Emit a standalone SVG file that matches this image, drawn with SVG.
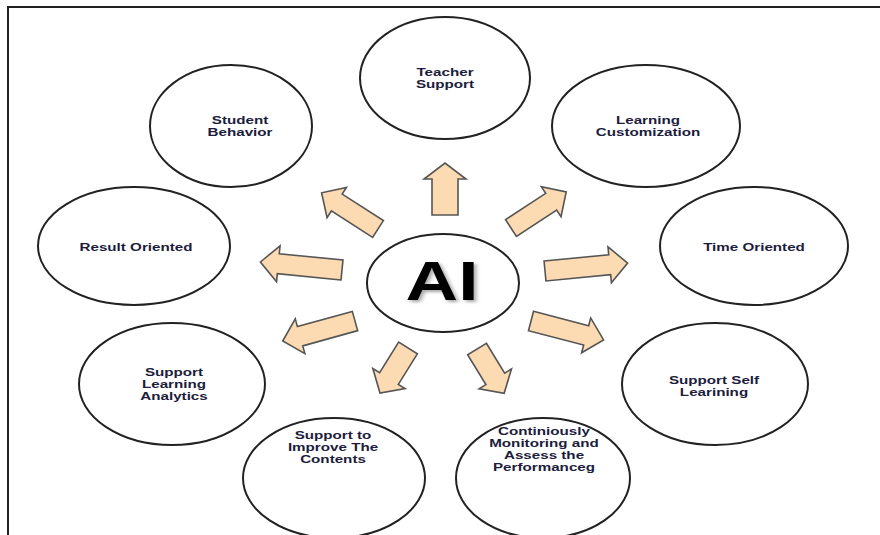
<svg xmlns="http://www.w3.org/2000/svg" width="880" height="535" viewBox="0 0 880 535">
<defs>
<style>
.node{fill:#fff;stroke:#222;stroke-width:2}
.lbl{font-family:"Liberation Sans",Arial,sans-serif;font-weight:bold;font-size:11px;fill:#1c1c3c;text-anchor:middle}
.arr{fill:#fcdab2;stroke:#555;stroke-width:1.6;stroke-linejoin:miter}
.ai{font-family:"Liberation Sans",Arial,sans-serif;font-weight:bold;font-size:56px;fill:#000;text-anchor:middle}
</style>
<filter id="sh" x="-20%" y="-20%" width="140%" height="140%">
<feDropShadow dx="2" dy="2" stdDeviation="1.5" flood-color="#000" flood-opacity="0.35"/>
</filter>
</defs>
<rect width="880" height="535" fill="#fff"/>
<path d="M8,535 V7 H880" fill="none" stroke="#222" stroke-width="2"/>
<g id="connectors">
<path class="arr" transform="translate(445,215) rotate(-90)" d="M0,-13 H36 V-21 L52,0 L36,21 V13 H0 Z"/>
<path class="arr" transform="translate(378,229) rotate(-147.3)" d="M0,-10 H49 V-18 L67,0 L49,18 V10 H0 Z"/>
<path class="arr" transform="translate(511,228) rotate(-33.2)" d="M0,-10 H48 V-18 L66,0 L48,18 V10 H0 Z"/>
<path class="arr" transform="translate(342,270) rotate(-174.4)" d="M0,-10 H64 V-18 L82,0 L64,18 V10 H0 Z"/>
<path class="arr" transform="translate(545,271) rotate(-5.5)" d="M0,-10 H65 V-18 L83,0 L65,18 V10 H0 Z"/>
<path class="arr" transform="translate(355,321) rotate(164.5)" d="M0,-10 H57 V-18 L75,0 L57,18 V10 H0 Z"/>
<path class="arr" transform="translate(531,321) rotate(14.6)" d="M0,-10 H57 V-18 L75,0 L57,18 V10 H0 Z"/>
<path class="arr" transform="translate(408,348) rotate(121.9)" d="M0,-11 H36 V-19 L53,0 L36,19 V11 H0 Z"/>
<path class="arr" transform="translate(477,349) rotate(58.5)" d="M0,-11 H35 V-19 L52,0 L35,19 V11 H0 Z"/>
</g>
<g id="ai">
<ellipse class="node" cx="443" cy="283" rx="76" ry="49" stroke-width="1.6"/>
<text class="ai" transform="translate(442,0) scale(1.3,1)" x="0" y="300" filter="url(#sh)">AI</text>
</g>
<g id="teacher">
<ellipse class="node" cx="445" cy="78" rx="85" ry="61"/>
<text class="lbl" transform="translate(445,0) scale(1.38,1)"><tspan x="0" y="76">Teacher</tspan><tspan x="0" y="88">Support</tspan></text>
</g>
<g id="student">
<ellipse class="node" cx="231" cy="126" rx="81" ry="61"/>
<text class="lbl" transform="translate(240,0) scale(1.38,1)"><tspan x="0" y="124">Student</tspan><tspan x="0" y="136">Behavior</tspan></text>
</g>
<g id="learning">
<ellipse class="node" cx="646" cy="126" rx="94" ry="61"/>
<text class="lbl" transform="translate(648,0) scale(1.38,1)"><tspan x="0" y="124">Learning</tspan><tspan x="0" y="136">Customization</tspan></text>
</g>
<g id="result">
<ellipse class="node" cx="134" cy="246" rx="96" ry="59"/>
<text class="lbl" transform="translate(136,0) scale(1.38,1)" x="0" y="251">Result Oriented</text>
</g>
<g id="time">
<ellipse class="node" cx="754" cy="246" rx="94" ry="59"/>
<text class="lbl" transform="translate(754,0) scale(1.38,1)" x="0" y="251">Time Oriented</text>
</g>
<g id="analytics">
<ellipse class="node" cx="172" cy="384" rx="93" ry="61"/>
<text class="lbl" transform="translate(174,0) scale(1.38,1)"><tspan x="0" y="376">Support</tspan><tspan x="0" y="388">Learning</tspan><tspan x="0" y="400">Analytics</tspan></text>
</g>
<g id="selflearn">
<ellipse class="node" cx="715" cy="384" rx="93" ry="61"/>
<text class="lbl" transform="translate(714,0) scale(1.38,1)"><tspan x="0" y="384">Support Self</tspan><tspan x="0" y="396">Learining</tspan></text>
</g>
<g id="improve">
<ellipse class="node" cx="334" cy="478" rx="91" ry="60"/>
<text class="lbl" transform="translate(333,0) scale(1.38,1)"><tspan x="0" y="439">Support to</tspan><tspan x="0" y="451">Improve The</tspan><tspan x="0" y="463">Contents</tspan></text>
</g>
<g id="monitor">
<ellipse class="node" cx="543" cy="478" rx="87" ry="60"/>
<text class="lbl" transform="translate(544,0) scale(1.38,1)"><tspan x="0" y="435">Continiously</tspan><tspan x="0" y="447">Monitoring and</tspan><tspan x="0" y="459">Assess the</tspan><tspan x="0" y="471">Performanceg</tspan></text>
</g>
</svg>
